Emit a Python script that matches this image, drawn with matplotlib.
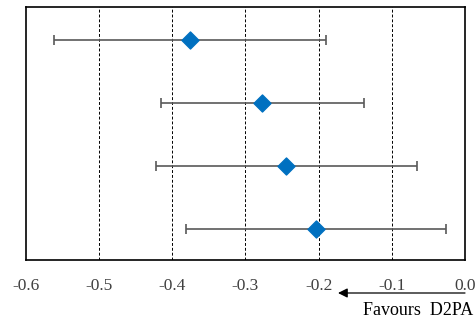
import numpy as np
import matplotlib.pyplot as plt

plt.rcParams['font.family'] = ['Liberation Serif', 'DejaVu Serif']

# effect estimates and CIs, top row first
est = [-0.376, -0.277, -0.244, -0.203]
lo = [-0.562, -0.415, -0.422, -0.382]
hi = [-0.190, -0.138, -0.066, -0.026]
rows = [4, 3, 2, 1]
xticks = [-0.6, -0.5, -0.4, -0.3, -0.2, -0.1, 0.0]

fig = plt.figure(figsize=(4.75, 3.21), dpi=100)
ax = fig.add_axes([26 / 475, 1 - 260 / 321, 439 / 475, 253 / 321])

est = np.array(est)
xerr = [est - np.array(lo), np.array(hi) - est]
ax.errorbar(est, rows, xerr=xerr, fmt='none', ecolor='#595959', elinewidth=1.2,
            capsize=3.5, capthick=1.2, zorder=3)
ax.scatter(est, rows, marker='D', s=75, color='#0070C0', zorder=4)

for x in xticks[1:-1]:
    ax.axvline(x, color='black', linestyle=(0, (3, 2)), linewidth=0.7, zorder=1)

ax.set_xlim(-0.6, 0.0)
ax.set_ylim(0.5, 4.52)
ax.set_yticks([])
ax.set_xticks(xticks)
ax.set_xticklabels(['%.1f' % v for v in xticks], fontsize=12.5, color='#404040')
ax.tick_params(axis='x', length=0, pad=13)
for s in ax.spines.values():
    s.set_linewidth(1.2)

# arrow and direction label below the axis
ax.annotate('', xy=(338 / 475, 1 - 293 / 321), xytext=(465 / 475, 1 - 293 / 321),
            xycoords='figure fraction', textcoords='figure fraction',
            arrowprops=dict(arrowstyle='-|>', color='black', lw=0.9,
                            mutation_scale=14, shrinkA=0, shrinkB=0),
            annotation_clip=False)
fig.text(0.996, 2 / 321, 'Favours  D2PA', ha='right', va='bottom', fontsize=13)

fig.savefig('out.png', dpi=100)
